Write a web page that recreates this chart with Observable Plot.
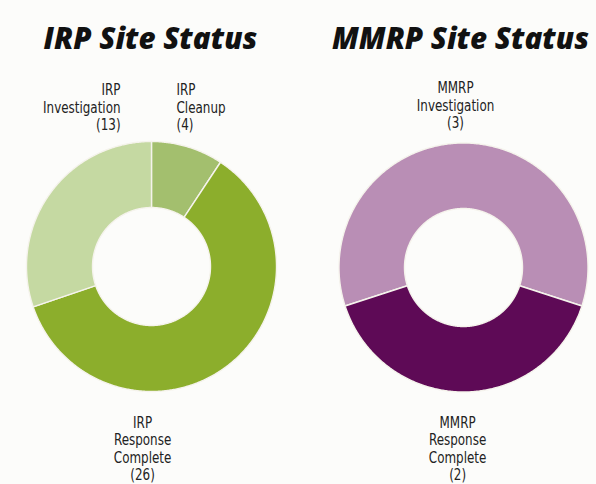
<!DOCTYPE html>
<html><head><meta charset="utf-8">
<script src="https://cdn.jsdelivr.net/npm/d3@7"></script>
<script src="https://cdn.jsdelivr.net/npm/@observablehq/plot@0.6"></script>
<style>
html,body{margin:0;padding:0;background:#fcfcfa;}
#wrap{display:flex;width:596px;height:484px;overflow:hidden;}
</style></head><body><div id="wrap"></div>
<script>
// ---- data ----
const irpProgram = "IRP";
const irpStatuses = ["Cleanup", "Response Complete", "Investigation"];
const irpCounts = [4, 26, 13];
const irpColors = ["#a3bf6e", "#8cae2c", "#c5d9a2"];

const mmrpProgram = "MMRP";
const mmrpStatuses = ["Investigation", "Response Complete"];
const mmrpCounts = [3, 2];
const mmrpColors = ["#b98eb5", "#5e0a56"];

const titles = ["IRP Site Status", "MMRP Site Status"];

// ---- layout ----
const LABEL_FONT = "'DejaVu Sans Condensed','DejaVu Sans',sans-serif";
const LABEL_SQUEEZE = 0.83;
const TITLE_FONT = "'Open Sans',Lato,sans-serif";
const panels = [
  {program: irpProgram, statuses: irpStatuses, counts: irpCounts, colors: irpColors, title: titles[0],
   width: 300, start: 0, inner: 0.472,
   xr: [26, 276], yr: [391, 141], titleX: 150,
   labels: [
     {textAnchor: "start", dx: 176, dy: 82.5},
     {textAnchor: "middle", dx: 148, dy: 415},
     {textAnchor: "end", dx: 120, dy: 82.5}
   ]},
  {program: mmrpProgram, statuses: mmrpStatuses, counts: mmrpCounts, colors: mmrpColors, title: titles[1],
   width: 296, start: 252, inner: 0.474,
   xr: [38.5, 287.5], yr: [391.5, 142.5], titleX: 160,
   labels: [
     {textAnchor: "middle", dx: 163, dy: 80.5},
     {textAnchor: "middle", dx: 163, dy: 415}
   ]}
];

function ringPoints(statuses, counts, startDeg, inner) {
  const rad = Math.PI / 180;
  const arcs = d3.pie().sort(null).startAngle(startDeg * rad).endAngle((startDeg + 360) * rad)(counts);
  const pts = [];
  arcs.forEach((a, i) => {
    const key = statuses[i];
    const n = Math.max(2, Math.ceil((a.endAngle - a.startAngle) / (rad / 2)));
    const ts = d3.range(n + 1).map(k => a.startAngle + (a.endAngle - a.startAngle) * k / n);
    ts.forEach(t => pts.push({key, x: Math.sin(t), y: Math.cos(t)}));
    ts.slice().reverse().forEach(t => pts.push({key, x: inner * Math.sin(t), y: inner * Math.cos(t)}));
    pts.push({key, x: Math.sin(a.startAngle), y: Math.cos(a.startAngle)});
  });
  return pts;
}

// condense label text horizontally around its anchor (no narrow font installed)
function squeeze(svg, factor) {
  svg.querySelectorAll("g.seg-label text").forEach(el => {
    const anchor = el.getAttribute("text-anchor") || el.parentNode.getAttribute("text-anchor") || "start";
    const bb = el.getBBox();
    let ax = anchor === "end" ? bb.x + bb.width : anchor === "middle" ? bb.x + bb.width / 2 : bb.x;
    const tr = el.transform && el.transform.baseVal.consolidate();
    if (tr) ax = tr.matrix.a * ax + tr.matrix.e;
    const g = document.createElementNS("http://www.w3.org/2000/svg", "g");
    g.setAttribute("transform", `translate(${ax},0) scale(${factor},1) translate(${-ax},0)`);
    el.parentNode.insertBefore(g, el);
    g.appendChild(el);
  });
}

const wrap = document.getElementById("wrap");
panels.forEach(p => {
  const pts = ringPoints(p.statuses, p.counts, p.start, p.inner);
  const labelMarks = p.statuses.map((s, i) =>
    Plot.text([`${p.program}\n${s.split(" ").join("\n")}\n(${p.counts[i]})`], {
      text: d => d, frameAnchor: "top-left",
      dx: p.labels[i].dx, dy: p.labels[i].dy, textAnchor: p.labels[i].textAnchor,
      lineAnchor: "top", lineHeight: 1.09, fontSize: 16, fontFamily: LABEL_FONT, fill: "#222",
      className: "seg-label"
    }));
  const chart = Plot.plot({
    width: p.width, height: 484, margin: 0,
    x: {domain: [-1, 1], range: p.xr, axis: null},
    y: {domain: [-1, 1], range: p.yr, axis: null},
    color: {domain: p.statuses, range: p.colors},
    style: {background: "transparent", overflow: "visible"},
    marks: [
      Plot.line(pts, {x: "x", y: "y", z: "key", fill: "key", stroke: "#f5f3ec", strokeWidth: 1.4, curve: "linear"}),
      Plot.text([p.title], {
        text: d => d, frameAnchor: "top-left", dx: p.titleX, dy: 28, textAnchor: "middle",
        lineAnchor: "top", fontSize: 29.5, fontWeight: 800, fontStyle: "italic", fontFamily: TITLE_FONT, fill: "#111"
      }),
      ...labelMarks
    ]
  });
  wrap.appendChild(chart);
  squeeze(chart, LABEL_SQUEEZE);
});
</script></body></html>
